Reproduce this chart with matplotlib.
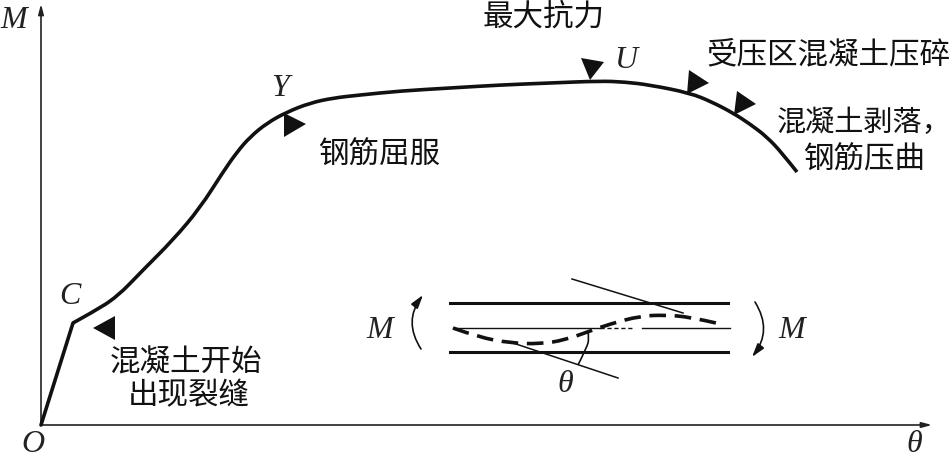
import matplotlib
matplotlib.use('Agg')
import matplotlib.pyplot as plt
from matplotlib.patches import FancyArrowPatch, PathPatch
from matplotlib.path import Path

# M-theta curve (pixel units)
elastic_x = [41, 73]
elastic_y = [425, 323]
curve_x = [73, 93, 117, 143, 173, 200, 223, 237, 250, 267, 287, 310, 333, 360, 400, 450, 500, 550, 600, 625, 650, 690,
           712, 733, 750, 767, 782, 797]
curve_y = [323, 312, 297, 270, 240, 208, 172, 152, 137, 123, 112, 103, 98, 95, 91, 88, 85, 83, 81, 82, 85, 93,
           102, 113, 124, 137, 153, 172]

# deformed shape in the small sketch
shape_x = [453, 478, 510, 540, 565, 590, 610, 640, 665, 690, 716]
shape_y = [328, 337, 343, 344, 340, 331, 324, 316, 315, 317, 323]
arc_x = [588, 589, 587, 578]
arc_y = [331, 339, 347, 365]

# triangular markers along the curve
triangles = [
    [(93, 328), (115, 316), (115, 340)],
    [(284, 113), (284, 137), (306, 124)],
    [(581, 58), (604, 62), (590, 80)],
    [(689, 70), (709, 83), (687, 94)],
    [(737, 91), (756, 104), (734, 115)],
]

cn_labels = [
    ('最大抗力', 483, 17, 22),
    ('受压区混凝土压碎', 706, 55, 22),
    ('混凝土剥落，', 777, 123, 21),  # the wide comma would run off the edge at 22
    ('钢筋压曲', 803, 160, 22),
    ('钢筋屈服', 318, 155, 22),
    ('混凝土开始', 110, 363, 22),
    ('出现裂缝', 128, 396, 22),
]
letters = [
    ('M', 14, 20), ('Y', 280, 89), ('U', 626, 60), ('C', 70, 296), ('O', 33, 445),
    ('θ', 914, 445), ('M', 380, 331), ('M', 792, 331), ('θ', 565, 384),
]


def smooth(ax, xs, ys, lw, ls='-'):
    # quadratic pieces through the midpoints, so the drawn line has no corners
    pts = list(zip(xs, ys))
    verts = [pts[0]]
    codes = [Path.MOVETO]
    for i in range(1, len(pts) - 1):
        mid = ((pts[i][0] + pts[i + 1][0]) / 2, (pts[i][1] + pts[i + 1][1]) / 2)
        if i == len(pts) - 2:
            mid = pts[-1]
        verts += [pts[i], mid]
        codes += [Path.CURVE3, Path.CURVE3]
    ax.add_patch(PathPatch(Path(verts, codes), fc='none', ec='#111111', lw=lw, ls=ls, capstyle='butt'))


fig = plt.figure(figsize=(9.53, 4.59), dpi=100)
ax = fig.add_axes([0, 0, 1, 1])
ax.set_xlim(0, 953)
ax.set_ylim(459, 0)
ax.axis('off')

# axes
ax.add_patch(FancyArrowPatch((41, 425), (41, 4), arrowstyle='-|>,head_length=6,head_width=1.6', color='#222222',
                             lw=1.2, shrinkA=0, shrinkB=0))
ax.add_patch(FancyArrowPatch((41, 425), (932, 425), arrowstyle='-|>,head_length=6,head_width=1.6', color='#222222',
                             lw=1.2, shrinkA=0, shrinkB=0))

ax.plot(elastic_x, elastic_y, color='#111111', lw=2.6, solid_capstyle='round')
smooth(ax, curve_x, curve_y, 2.6)
for tri in triangles:
    ax.fill([p[0] for p in tri], [p[1] for p in tri], color='#111111', lw=0)

# small sketch
ax.plot([450, 728], [303, 303], color='#111111', lw=2.2)
ax.plot([450, 728], [352, 352], color='#111111', lw=2.2)
ax.plot([453, 600], [328, 328], color='#111111', lw=1.0)
ax.plot([600, 633], [328, 328], color='#111111', lw=1.0, ls=(0, (3, 2)))
ax.plot([642, 730], [328, 328], color='#111111', lw=1.0)
ax.plot([572, 683], [279, 313], color='#111111', lw=1.1)
ax.plot([510, 618], [342, 378], color='#111111', lw=1.1)
smooth(ax, shape_x, shape_y, 2.6, ls=(0, (4.6, 2.4)))
smooth(ax, arc_x, arc_y, 1.2)

ax.add_patch(FancyArrowPatch((421, 349), (423, 295), connectionstyle='arc3,rad=-0.35',
                             arrowstyle='-|>,head_length=8,head_width=2.4', color='#111111', lw=1.2,
                             shrinkA=0, shrinkB=0))
ax.add_patch(FancyArrowPatch((755, 302), (752, 357), connectionstyle='arc3,rad=-0.35',
                             arrowstyle='-|>,head_length=8,head_width=2.4', color='#111111', lw=1.2,
                             shrinkA=0, shrinkB=0))

for txt, x, y, size in cn_labels:
    ax.text(x, y, txt, family=['Noto Sans CJK SC', 'DejaVu Sans'], fontsize=size, color='#111111',
            ha='left', va='center')
for txt, x, y in letters:
    ax.text(x, y, txt, family='Liberation Serif', style='italic', fontsize=23, color='#222222',
            ha='center', va='center')

plt.savefig('out.png', dpi=100)
